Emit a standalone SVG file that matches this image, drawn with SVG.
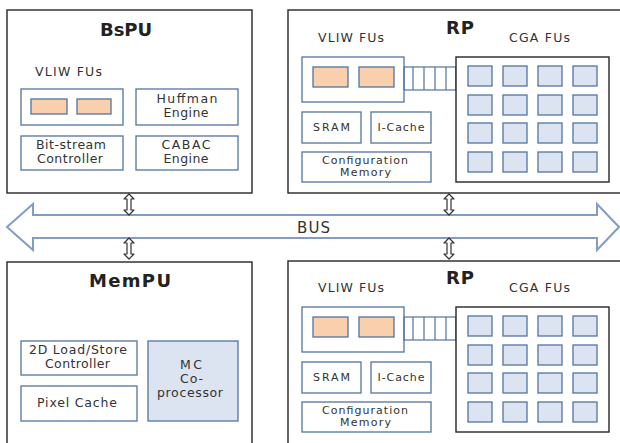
<svg xmlns="http://www.w3.org/2000/svg" width="620" height="443" viewBox="0 0 620 443">
  <style>
    .outer { fill: #ffffff; stroke: #262626; stroke-width: 1.4; }
    .blk { fill: #ffffff; stroke: #52739f; stroke-width: 1.3; }
    .fu { fill: #f9cfae; stroke: #52739f; stroke-width: 1.3; }
    .pe { fill: #dbe4f0; stroke: #52739f; stroke-width: 1.3; }
    .mc { fill: #dbe4f0; stroke: #52739f; stroke-width: 1.3; }
    .cga { fill: #ffffff; stroke: #262626; stroke-width: 1.4; }
    .link { fill: none; stroke: #52739f; stroke-width: 1.2; }
    .bus { fill: #ffffff; stroke: #819dc6; stroke-width: 2; stroke-linejoin: miter; }
    .io { fill: #ffffff; stroke: #333333; stroke-width: 1.2; stroke-linejoin: round; }
    text { font-family: "DejaVu Sans", "Liberation Sans", sans-serif; fill: #333333; }
    .title { font-size: 18px; font-weight: bold; fill: #222222; text-anchor: middle; }
    .lbl { font-size: 12.5px; }
    .mid { font-size: 12.5px; text-anchor: middle; }
    .sm { font-size: 11px; text-anchor: middle; }
  </style>

  <defs>
    <!-- 4x4 coarse-grained array of processing elements -->
    <g id="pe-array">
      <rect class="pe" x="468" y="66" width="24" height="20"/>
      <rect class="pe" x="503" y="66" width="24" height="20"/>
      <rect class="pe" x="538" y="66" width="24" height="20"/>
      <rect class="pe" x="573" y="66" width="24" height="20"/>
      <rect class="pe" x="468" y="95" width="24" height="20"/>
      <rect class="pe" x="503" y="95" width="24" height="20"/>
      <rect class="pe" x="538" y="95" width="24" height="20"/>
      <rect class="pe" x="573" y="95" width="24" height="20"/>
      <rect class="pe" x="468" y="123" width="24" height="20"/>
      <rect class="pe" x="503" y="123" width="24" height="20"/>
      <rect class="pe" x="538" y="123" width="24" height="20"/>
      <rect class="pe" x="573" y="123" width="24" height="20"/>
      <rect class="pe" x="468" y="152" width="24" height="20"/>
      <rect class="pe" x="503" y="152" width="24" height="20"/>
      <rect class="pe" x="538" y="152" width="24" height="20"/>
      <rect class="pe" x="573" y="152" width="24" height="20"/>
    </g>
    <!-- hollow vertical double arrow, centred on x=0, 21 tall -->
    <path id="io-arrow" d="M0,0 L5,5 L2,5 L2,16 L5,16 L0,21 L-5,16 L-2,16 L-2,5 L-5,5 Z"/>
  </defs>

  <!-- Bitstream processing unit -->
  <g id="bspu">
    <rect class="outer" x="7" y="10" width="245" height="183"/>
    <text class="title" x="126" y="36" textLength="52">BsPU</text>
    <text class="lbl" x="35" y="76" textLength="67">VLIW FUs</text>
    <rect class="blk" x="21" y="89" width="102" height="36"/>
    <rect class="fu" x="31" y="99" width="36" height="15"/>
    <rect class="fu" x="77" y="99" width="34" height="15"/>
    <rect class="blk" x="136" y="89" width="102" height="36"/>
    <text class="mid" x="187" y="103" textLength="61">Huffman</text>
    <text class="mid" x="186" y="117" textLength="45">Engine</text>
    <rect class="blk" x="21" y="136" width="102" height="34"/>
    <text class="mid" x="71" y="149" textLength="70">Bit-stream</text>
    <text class="mid" x="70" y="163" textLength="66">Controller</text>
    <rect class="blk" x="136" y="136" width="102" height="34"/>
    <text class="mid" x="186" y="149" textLength="49">CABAC</text>
    <text class="mid" x="186" y="163" textLength="45">Engine</text>
  </g>

  <!-- Reconfigurable processor (upper) -->
  <g id="rp-upper">
    <rect class="outer" x="288" y="10" width="340" height="183"/>
    <text class="title" x="460" y="34" textLength="28">RP</text>
    <text class="lbl" x="318" y="42" textLength="66">VLIW FUs</text>
    <text class="lbl" x="509" y="42" textLength="61">CGA FUs</text>
    <rect class="blk" x="302" y="57" width="102" height="45"/>
    <rect class="fu" x="313" y="67" width="35" height="20"/>
    <rect class="fu" x="359" y="67" width="35" height="20"/>
    <rect class="link" x="404" y="67" width="52" height="23"/>
    <path class="link" d="M413,67 V90 M424,67 V90 M435,67 V90 M446,67 V90"/>
    <rect class="cga" x="456" y="57" width="153" height="125"/>
    <use href="#pe-array"/>
    <rect class="blk" x="302" y="112" width="59" height="31"/>
    <text class="sm" x="331.5" y="131" textLength="37">SRAM</text>
    <rect class="blk" x="371" y="112" width="60" height="31"/>
    <text class="sm" x="401" y="131" textLength="47">I-Cache</text>
    <rect class="blk" x="302" y="152" width="129" height="30"/>
    <text class="sm" x="365" y="164" textLength="86">Configuration</text>
    <text class="sm" x="365.5" y="176" textLength="51">Memory</text>
  </g>

  <!-- Shared system bus -->
  <g id="bus">
    <path class="bus" d="M7,227 L33,204 L33,215 L597,215 L597,204 L619,227 L597,250 L597,238 L33,238 L33,250 Z"/>
    <text x="313.5" y="233" font-size="15" text-anchor="middle" textLength="33">BUS</text>
  </g>

  <!-- Memory processing unit -->
  <g id="mempu">
    <rect class="outer" x="7" y="262" width="245" height="190"/>
    <text class="title" x="130" y="287" textLength="82">MemPU</text>
    <rect class="blk" x="21" y="341" width="116" height="34"/>
    <text class="mid" x="78" y="354" textLength="98">2D Load/Store</text>
    <text class="mid" x="77.5" y="368" textLength="65">Controller</text>
    <rect class="blk" x="21" y="386" width="116" height="35"/>
    <text class="mid" x="77" y="407" textLength="80">Pixel Cache</text>
    <rect class="mc" x="148" y="341" width="90" height="80"/>
    <text class="mid" x="191" y="369" textLength="22">MC</text>
    <text class="mid" x="191.5" y="383" textLength="23">Co-</text>
    <text class="mid" x="190" y="397" textLength="66">processor</text>
  </g>

  <!-- Reconfigurable processor (lower) -->
  <g id="rp-lower">
    <rect class="outer" x="288" y="261" width="340" height="190"/>
    <g transform="translate(0,250)">
      <text class="title" x="460" y="34" textLength="28">RP</text>
      <text class="lbl" x="318" y="42" textLength="66">VLIW FUs</text>
      <text class="lbl" x="509" y="42" textLength="61">CGA FUs</text>
      <rect class="blk" x="302" y="57" width="102" height="45"/>
      <rect class="fu" x="313" y="67" width="35" height="20"/>
      <rect class="fu" x="359" y="67" width="35" height="20"/>
      <rect class="link" x="404" y="67" width="52" height="23"/>
      <path class="link" d="M413,67 V90 M424,67 V90 M435,67 V90 M446,67 V90"/>
      <rect class="cga" x="456" y="57" width="153" height="125"/>
      <use href="#pe-array"/>
      <rect class="blk" x="302" y="112" width="59" height="31"/>
      <text class="sm" x="331.5" y="131" textLength="37">SRAM</text>
      <rect class="blk" x="371" y="112" width="60" height="31"/>
      <text class="sm" x="401" y="131" textLength="47">I-Cache</text>
      <rect class="blk" x="302" y="152" width="129" height="30"/>
      <text class="sm" x="365" y="164" textLength="86">Configuration</text>
      <text class="sm" x="365.5" y="176" textLength="51">Memory</text>
    </g>
  </g>

  <!-- Bus attachments -->
  <g id="connectors">
    <use class="io" href="#io-arrow" x="129" y="194"/>
    <use class="io" href="#io-arrow" x="449" y="194"/>
    <use class="io" href="#io-arrow" x="129" y="238"/>
    <use class="io" href="#io-arrow" x="449" y="238"/>
  </g>
</svg>
